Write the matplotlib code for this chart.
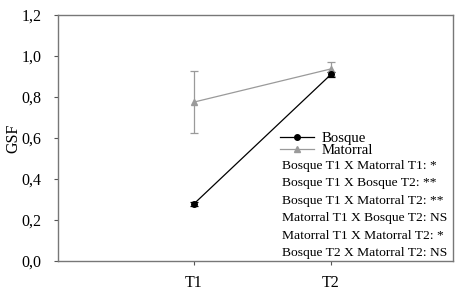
import numpy as np
import matplotlib
matplotlib.use('Agg')
import matplotlib.pyplot as plt
from matplotlib.lines import Line2D
from matplotlib.ticker import FuncFormatter

plt.rcParams['font.family'] = ['Liberation Serif', 'DejaVu Serif']

# datos
tiempos = ['T1', 'T2']
bosque = [0.278, 0.91]
bosque_err = [0.012, 0.012]
matorral = [0.775, 0.937]
matorral_err = [0.153, 0.035]
comparaciones = ['Bosque T1 X Matorral T1: *',
                 'Bosque T1 X Bosque T2: **',
                 'Bosque T1 X Matorral T2: **',
                 'Matorral T1 X Bosque T2: NS',
                 'Matorral T1 X Matorral T2: *',
                 'Bosque T2 X Matorral T2: NS']

x = np.arange(1, len(tiempos) + 1)
gris = '#9a9a9a'

fig = plt.figure(figsize=(4.77, 2.93), dpi=100)
ax = fig.add_axes([58/477, 1 - 261/293, 395/477, 246/293])

ax.errorbar(x, matorral, yerr=matorral_err, color=gris, marker='^', ms=4.5,
            lw=0.9, capsize=3, elinewidth=0.9, capthick=0.9)
ax.errorbar(x, bosque, yerr=bosque_err, color='black', marker='o', ms=4,
            lw=0.9, capsize=3, elinewidth=0.9, capthick=0.9)

ax.set_xlim(0.01, 2.89)
ax.set_ylim(0, 1.2)
ax.set_xticks(x)
ax.set_xticklabels(tiempos)
ax.set_yticks(np.arange(0, 1.21, 0.2))
ax.yaxis.set_major_formatter(FuncFormatter(lambda v, p: ('%.1f' % v).replace('.', ',')))
ax.tick_params(labelsize=11.5, length=3, width=0.8, color='#555555')
ax.tick_params(axis='y', pad=9)
ax.tick_params(axis='x', pad=7)
for s in ax.spines.values():
    s.set_color('#777777')
    s.set_linewidth(1.0)
ax.set_ylabel('GSF', fontsize=11.5)
ax.yaxis.set_label_coords(-0.092, 0.5)

handles = [Line2D([], [], color='black', marker='o', ms=4, lw=0.9),
           Line2D([], [], color=gris, marker='^', ms=4.5, lw=0.9)]
ax.legend(handles, ['Bosque', 'Matorral'], loc='upper left',
          bbox_to_anchor=(0.562, 0.525), frameon=False, fontsize=10.6,
          borderpad=0, borderaxespad=0, handlelength=2.3, handletextpad=0.5,
          labelspacing=-0.1)

for i, t in enumerate(comparaciones):
    ax.text(0.567, (261 - 166 - 17.4 * i) / 246, t, transform=ax.transAxes,
            fontsize=9.7, va='center', ha='left')

fig.savefig('out.png', dpi=100)
